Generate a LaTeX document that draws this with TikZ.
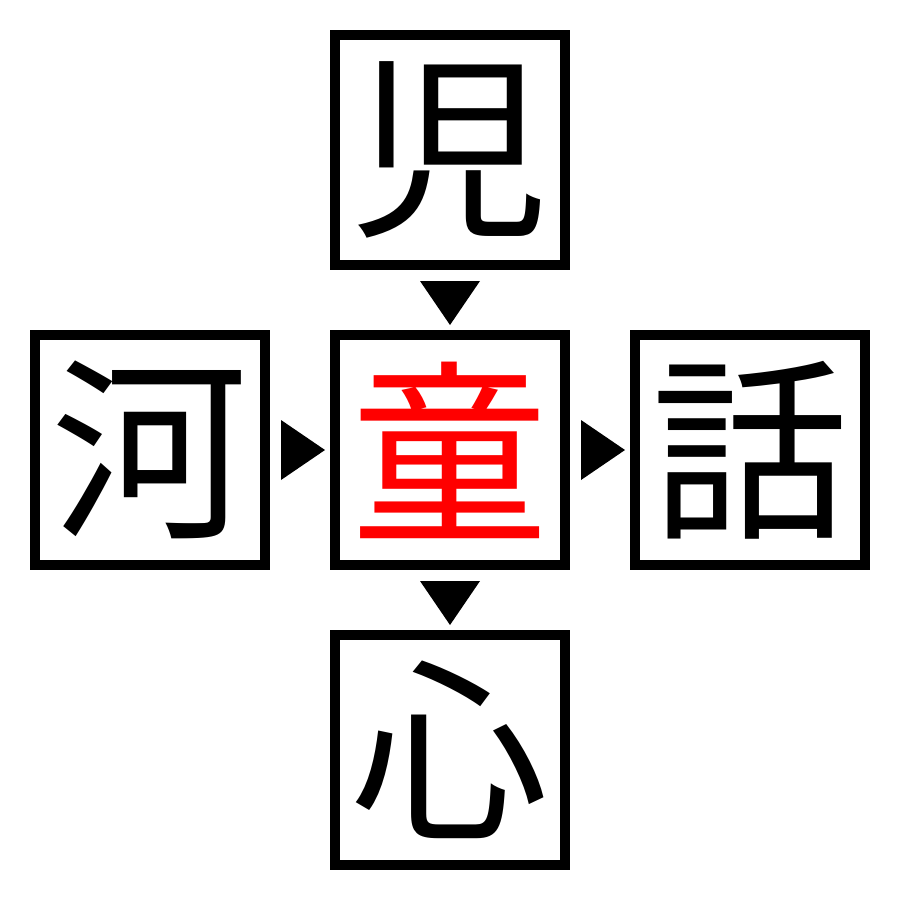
\documentclass[tikz,border=0pt]{standalone}
\usepackage{fontspec}
\newfontfamily\cjk{Noto Sans CJK JP}
\begin{document}
\begin{tikzpicture}[x=0.01cm,y=-0.01cm,
  charbox/.style={draw=black,line width=0.1cm,minimum width=2.3cm,minimum height=2.3cm,inner sep=0pt,font=\cjk\fontsize{56}{56}\selectfont},
  tri/.style={fill=black,draw=none}]
\useasboundingbox (0,0) rectangle (900,900);
\fill[white] (0,0) rectangle (900,900);
\node[charbox] (top) at (450,150) {児};
\node[charbox] (left) at (150,450) {河};
\node[charbox,text=red] (mid) at (450,450) {童};
\node[charbox] (right) at (750,450) {話};
\node[charbox] (bot) at (450,750) {心};
\fill[tri] (420,281) -- (480,281) -- (450,325) -- cycle;
\fill[tri] (420,581) -- (480,581) -- (450,625) -- cycle;
\fill[tri] (281,420) -- (281,480) -- (325,450) -- cycle;
\fill[tri] (581,420) -- (581,480) -- (625,450) -- cycle;
\end{tikzpicture}
\end{document}
